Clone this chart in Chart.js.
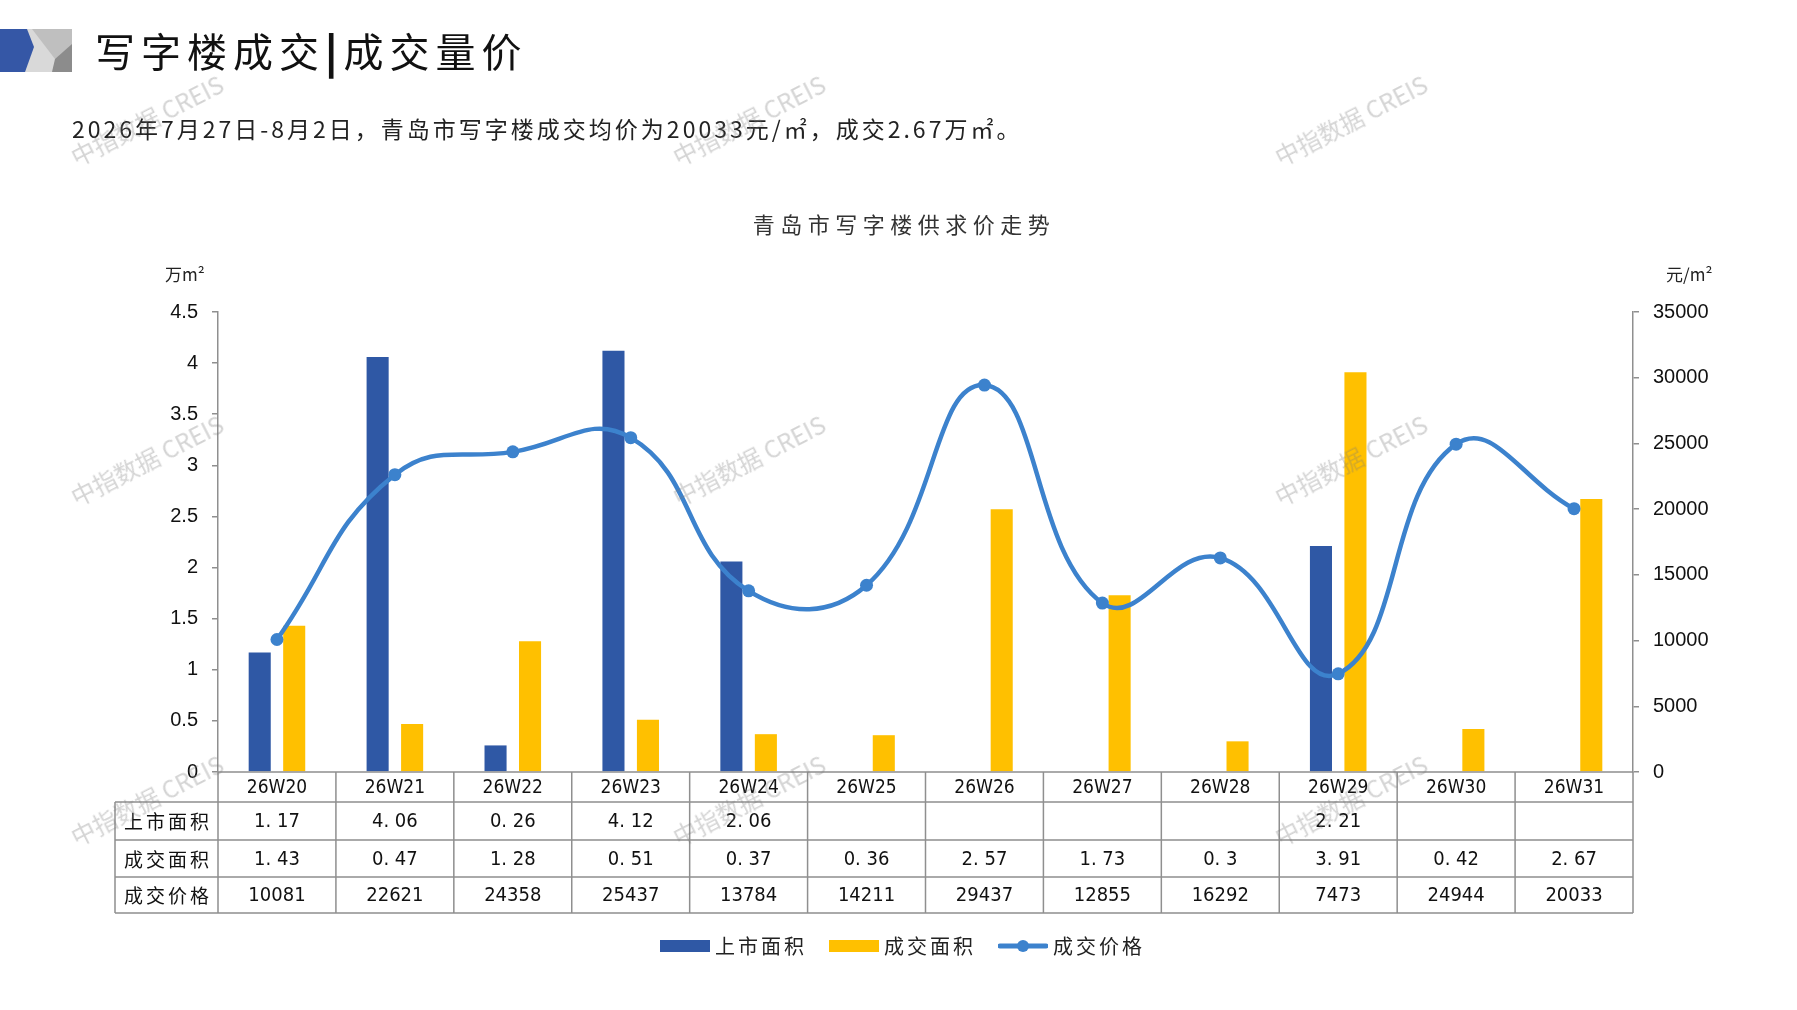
<!DOCTYPE html>
<html>
<head>
<meta charset="utf-8">
<script src="https://cdn.jsdelivr.net/npm/chart.js@4.4.1/dist/chart.umd.min.js"></script>
<style>
  body { margin: 0; background: #fff; width: 1797px; height: 1010px; overflow: hidden; position: relative;
         font-family: "Noto Sans CJK SC", "Noto Sans", sans-serif; }
  #wrap { position: absolute; left: 0; top: 0; width: 1797px; height: 1010px; }
  .abs { position: absolute; white-space: nowrap; }
  #title { left: 95px; top: 21px; font-size: 40px; color: #111; letter-spacing: 6px; }
  #sub { left: 72px; top: 111px; font-size: 23px; color: #222; letter-spacing: 3px; }
  #ctitle { left: 0; width: 1808px; text-align: center; top: 207px; font-size: 22px; color: #333; letter-spacing: 5.5px; }
  .unit { top: 261px; font-size: 17px; color: #222; }
  #legend { top: 931px; left: 660px; font-size: 20px; color: #222; display: flex; align-items: center; }
  .sw { display: inline-block; width: 50px; height: 12px; margin-right: 5px; }
  .lg { margin-right: 22px; letter-spacing: 3px; }
  .wm { font-size: 24px; color: rgba(120,120,120,0.32); transform: rotate(-27deg); transform-origin: left bottom; font-family: "Noto Sans CJK SC", sans-serif; pointer-events: none; }
</style>
</head>
<body>
<div id="wrap"><canvas id="chart1" width="1797" height="1010"></canvas></div>

<svg class="abs" style="left:0;top:29px" width="72" height="43">
  <rect x="0" y="0" width="72" height="43" fill="#d9d9d9"/>
  <polygon points="32,0 72,0 72,18 55,30" fill="#bfbfbf"/>
  <polygon points="72,15 72,43 52,43 55,30" fill="#8c8c8c"/>
  <polygon points="0,0 27,0 34,18 25,43 0,43" fill="#3557a6"/>
</svg>
<div class="abs" id="title">写字楼成交<b style="font-weight:900">|</b>成交量价</div>
<div class="abs" id="sub">2026年7月27日-8月2日，青岛市写字楼成交均价为20033元/㎡，成交2.67万㎡。</div>
<div class="abs" id="ctitle">青岛市写字楼供求价走势</div>
<div class="abs unit" style="left:165px">万m²</div>
<div class="abs unit" style="left:1666px">元/m²</div>

<div class="abs" id="legend">
  <span class="sw" style="background:#2f58a5"></span><span class="lg">上市面积</span>
  <span class="sw" style="background:#ffc000"></span><span class="lg">成交面积</span>
  <svg width="50" height="16" style="margin-right:5px"><line x1="2" y1="8" x2="48" y2="8" stroke="#3c82cd" stroke-width="5" stroke-linecap="round"/><circle cx="25" cy="8" r="6" fill="#3c82cd"/></svg><span class="lg">成交价格</span>
</div>

<div id="wms"></div>

<script>
// chart values
const categories = ['26W20', '26W21', '26W22', '26W23', '26W24', '26W25', '26W26', '26W27', '26W28', '26W29', '26W30', '26W31'];
const listedArea = [1.17, 4.06, 0.26, 4.12, 2.06, null, null, null, null, 2.21, null, null];
const dealArea = [1.43, 0.47, 1.28, 0.51, 0.37, 0.36, 2.57, 1.73, 0.3, 3.91, 0.42, 2.67];
const dealPrice = [10081, 22621, 24358, 25437, 13784, 14211, 29437, 12855, 16292, 7473, 24944, 20033];
const rowLabels = ['上市面积', '成交面积', '成交价格'];

// watermark positions
const wmXs = [80, 682, 1284];
const wmYs = [138, 478, 818];
const wmBox = document.getElementById('wms');
wmYs.forEach(y => wmXs.forEach(x => {
    const d = document.createElement('div');
    d.className = 'abs wm';
    d.style.left = x + 'px';
    d.style.top = y + 'px';
    d.textContent = '中指数据 CREIS';
    wmBox.appendChild(d);
}));

function fmtArea(v) {
    return v === null ? '' : String(v).replace('.', '. ');
}

// data table drawn under the plot, aligned with the category scale
const tablePlugin = {
    id: 'dataTable',
    afterDraw(chart) {
        const ctx = chart.ctx;
        const x = chart.scales.x;
        const left = chart.chartArea.left, right = chart.chartArea.right;
        const labelLeft = 115;
        const rows = [772, 802, 840, 877, 913];
        const n = categories.length;
        const w = (right - left) / n;
        ctx.save();
        ctx.strokeStyle = '#8f8f8f';
        ctx.lineWidth = 1.5;
        ctx.beginPath();
        ctx.moveTo(left, rows[0]); ctx.lineTo(right, rows[0]);
        for (let r = 1; r < rows.length; r++) {
            ctx.moveTo(labelLeft, rows[r]); ctx.lineTo(right, rows[r]);
        }
        ctx.moveTo(labelLeft, rows[1]); ctx.lineTo(labelLeft, rows[4]);
        for (let i = 0; i <= n; i++) {
            ctx.moveTo(left + i * w, rows[0]); ctx.lineTo(left + i * w, rows[4]);
        }
        ctx.stroke();

        ctx.fillStyle = '#111';
        ctx.textAlign = 'center';
        ctx.textBaseline = 'middle';
        const rowData = [listedArea, dealArea, dealPrice];
        for (let i = 0; i < n; i++) {
            const cx = x.getPixelForValue(i);
            ctx.font = '19px "DejaVu Sans Condensed", "Liberation Sans", sans-serif';
            ctx.fillText(categories[i], cx, (rows[0] + rows[1]) / 2 + 1);
            for (let r = 0; r < 3; r++) {
                const v = rowData[r][i];
                const txt = r < 2 ? fmtArea(v) : String(v);
                ctx.font = '20px "DejaVu Sans Condensed", "Liberation Sans", sans-serif';
                ctx.fillText(txt, cx, (rows[r + 1] + rows[r + 2]) / 2 + 1);
            }
        }
        ctx.font = '19px "Noto Sans CJK SC", sans-serif';
        for (let r = 0; r < 3; r++) {
            const cy = (rows[r + 1] + rows[r + 2]) / 2;
            const chars = rowLabels[r].split('');
            const step = 22;
            const cx0 = (labelLeft + left) / 2 - step * 1.5;
            chars.forEach((c, k) => ctx.fillText(c, cx0 + k * step, cy + 1));
        }
        ctx.restore();
    }
};

function initializeCharts() {
    const tickFont = { size: 20, family: '"Liberation Sans", Arial, sans-serif' };
    const ctx1 = document.getElementById('chart1').getContext('2d');
    new Chart(ctx1, {
        type: 'bar',
        data: {
            labels: categories,
            datasets: [{
                type: 'line',
                label: '成交价格',
                data: dealPrice,
                yAxisID: 'y2',
                borderColor: '#3c82cd',
                backgroundColor: '#3c82cd',
                borderWidth: 4.5,
                pointRadius: 6.5,
                pointBackgroundColor: '#3c82cd',
                pointBorderWidth: 0,
                tension: 0.45,
                order: 0
            }, {
                label: '上市面积',
                data: listedArea,
                yAxisID: 'y',
                backgroundColor: '#2f58a5',
                categoryPercentage: 0.585,
                barPercentage: 0.64,
                order: 1
            }, {
                label: '成交面积',
                data: dealArea,
                yAxisID: 'y',
                backgroundColor: '#ffc000',
                categoryPercentage: 0.585,
                barPercentage: 0.64,
                order: 1
            }]
        },
        options: {
            responsive: false,
            animation: false,
            layout: { padding: { left: 158, right: 74, top: 312, bottom: 238 } },
            plugins: { legend: { display: false }, tooltip: { enabled: false } },
            scales: {
                x: {
                    grid: { display: false },
                    border: { display: false },
                    ticks: { display: false },
                    afterFit(s) { s.height = 0; }
                },
                y: {
                    position: 'left',
                    min: 0, max: 4.5,
                    ticks: { stepSize: 0.5, padding: 14, color: '#111', font: tickFont,
                             callback: v => String(+v.toFixed(1)) },
                    grid: { drawOnChartArea: false, tickLength: 6, color: '#8f8f8f', lineWidth: 1.5 },
                    border: { color: '#8f8f8f', width: 1.5 },
                    afterFit(s) { s.width = 60; }
                },
                y2: {
                    position: 'right',
                    min: 0, max: 35000,
                    ticks: { stepSize: 5000, padding: 14, color: '#111', font: tickFont,
                             callback: v => String(v) },
                    grid: { drawOnChartArea: false, tickLength: 6, color: '#8f8f8f', lineWidth: 1.5 },
                    border: { color: '#8f8f8f', width: 1.5 },
                    afterFit(s) { s.width = 90; }
                }
            }
        },
        plugins: [tablePlugin]
    });
}

window.onload = initializeCharts;
</script>
</body>
</html>
